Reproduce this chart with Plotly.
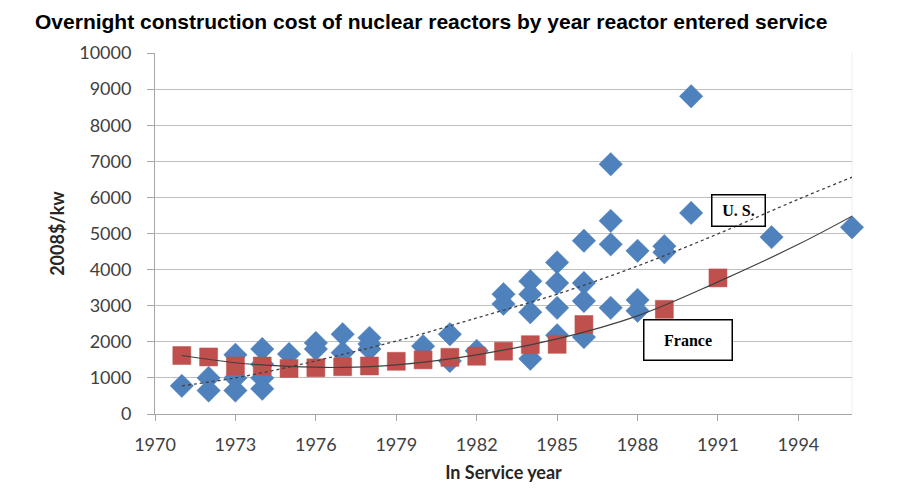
import plotly.graph_objects as go

# U.S. reactors (blue diamonds)
us_year = [1971, 1972, 1972, 1973, 1973, 1973, 1974, 1974, 1974, 1974,
           1975, 1976, 1976, 1977, 1977, 1978, 1978, 1978, 1980, 1981, 1981, 1982,
           1983, 1983, 1984, 1984, 1984, 1984, 1985, 1985, 1985, 1985,
           1986, 1986, 1986, 1986, 1987, 1987, 1987, 1987,
           1988, 1988, 1988, 1989, 1989, 1990, 1990, 1993, 1996]
us_cost = [780, 1000, 650, 1640, 1000, 650, 1800, 1380, 1000, 700,
           1660, 1970, 1800, 2210, 1700, 2110, 1940, 1800, 1880, 2210, 1470, 1750,
           3320, 3050, 3680, 3320, 2820, 1530, 4200, 3630, 2940, 2180,
           4800, 3630, 3130, 2130, 6920, 5350, 4700, 2940,
           4520, 3160, 2860, 4650, 4480, 8800, 5570, 4900, 5170]

# France reactors (red squares)
fr_year = [1971, 1972, 1973, 1974, 1975, 1976, 1977, 1978, 1979, 1980,
           1981, 1982, 1983, 1984, 1985, 1986, 1989, 1991]
fr_cost = [1620, 1580, 1330, 1330, 1260, 1280, 1310, 1330, 1460, 1500,
           1570, 1600, 1740, 1920, 1930, 2480, 2900, 3770]

# Trendlines
us_trend_year = [1971, 1973, 1975, 1977, 1979, 1982, 1985, 1988, 1991, 1994, 1996]
us_trend_cost = [780, 1000, 1300, 1650, 2020, 2660, 3320, 4100, 4990, 5950, 6560]
fr_trend_year = [1971, 1973, 1975, 1977, 1979, 1982, 1985, 1988, 1991, 1994, 1996]
fr_trend_cost = [1620, 1420, 1320, 1290, 1360, 1640, 2080, 2720, 3660, 4700, 5480]

x_ticks = [1970, 1973, 1976, 1979, 1982, 1985, 1988, 1991, 1994]
y_ticks = list(range(0, 10001, 1000))

fig = go.Figure()

fig.add_trace(go.Scatter(
    x=us_year, y=us_cost, mode="markers", name="U.S.",
    marker=dict(symbol="diamond", size=18, color="#4F81BD",
                line=dict(color="#4A7EBB", width=0.5)),
    cliponaxis=False, showlegend=False))
fig.add_trace(go.Scatter(
    x=fr_year, y=fr_cost, mode="markers", name="France",
    marker=dict(symbol="square", size=18, color="#C0504D",
                line=dict(color="#B9524F", width=0.5)),
    cliponaxis=False, showlegend=False))

fig.add_trace(go.Scatter(
    x=us_trend_year, y=us_trend_cost, mode="lines",
    line=dict(color="#404040", width=1.3, dash="dot", shape="spline"),
    hoverinfo="skip", showlegend=False))
fig.add_trace(go.Scatter(
    x=fr_trend_year, y=fr_trend_cost, mode="lines",
    line=dict(color="#404040", width=1.2, shape="spline"),
    hoverinfo="skip", showlegend=False))

fig.add_annotation(
    x=1991.75, y=5650, xref="x", yref="y", text="<b>U. S.</b>", showarrow=False,
    font=dict(family="Liberation Serif", size=16, color="black"),
    bgcolor="rgba(255,255,255,0)", bordercolor="black", borderwidth=1.5,
    borderpad=6, width=40, height=18)
fig.add_annotation(
    x=1989.9, y=2050, xref="x", yref="y", text="<b>France</b>", showarrow=False,
    font=dict(family="Liberation Serif", size=16, color="black"),
    bgcolor="white", bordercolor="black", borderwidth=1.5,
    borderpad=6, width=75, height=27)

fig.update_layout(
    width=913, height=500,
    margin=dict(l=147, r=69, t=45, b=94),
    paper_bgcolor="white", plot_bgcolor="white",
    title=dict(text="<b>Overnight construction cost of nuclear reactors by year reactor entered service</b>",
               x=0.0296, xanchor="left", y=0.972, yanchor="middle",
               font=dict(family="Liberation Sans", size=21, color="black")),
    font=dict(family="Lato", size=18, color="#404040"),
)

fig.update_xaxes(
    range=[1970, 1996], tickmode="array", tickvals=x_ticks,
    ticktext=[str(v) for v in x_ticks],
    showgrid=False, zeroline=False,
    showline=True, linecolor="#A6A6A6", linewidth=1,
    ticks="outside", ticklen=6, tickcolor="#A6A6A6",
    ticklabelstandoff=8,
    tickfont=dict(family="Lato", size=18, color="#404040"),
    title=dict(text="<b>In Service year</b>", standoff=12,
               font=dict(family="Lato", size=18, color="#262626")))
fig.update_yaxes(
    range=[0, 10000], tickmode="array", tickvals=y_ticks,
    ticktext=[str(v) for v in y_ticks],
    showgrid=True, gridcolor="#BFBFBF", gridwidth=1, zeroline=False,
    showline=True, linecolor="#A6A6A6", linewidth=1,
    ticks="outside", ticklen=7, tickcolor="#A6A6A6",
    ticklabelstandoff=12,
    tickfont=dict(family="Lato", size=18, color="#404040"),
    title=dict(text="<b>2008$/kw</b>", standoff=9,
               font=dict(family="Lato", size=18, color="#262626")))

fig.add_shape(type="line", xref="paper", yref="paper", x0=1, x1=1, y0=0, y1=1,
              line=dict(color="#EEEEEE", width=1), layer="below")

fig.write_html("out.html")
